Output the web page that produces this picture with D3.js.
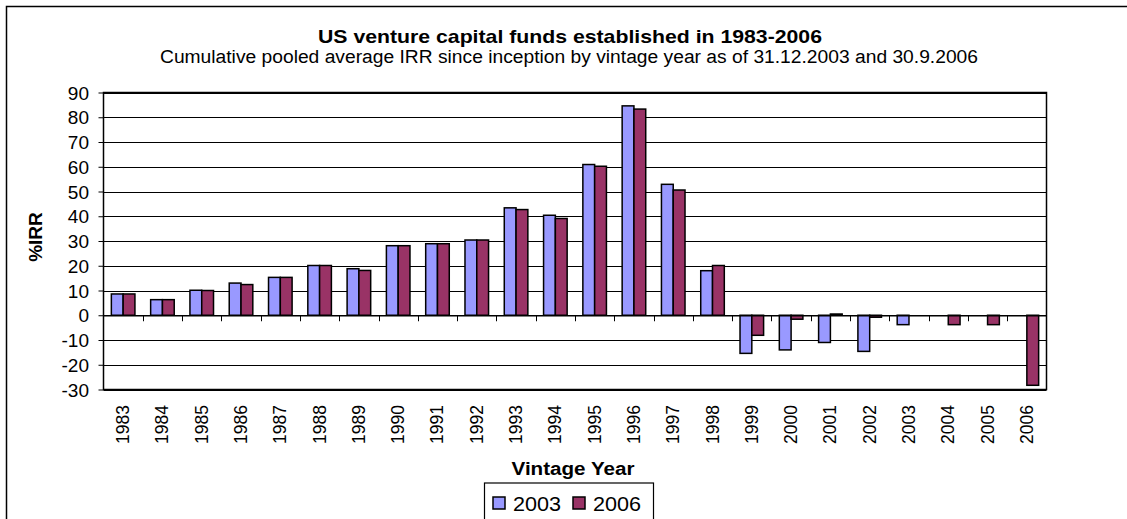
<!DOCTYPE html>
<html>
<head>
<meta charset="utf-8">
<script src="https://cdn.jsdelivr.net/npm/d3@7"></script>
<style>
  body { margin: 0; background: #fff; }
  text { font-family: "Liberation Sans", Arial, sans-serif; fill: #000; }
</style>
</head>
<body>
<div id="chart"></div>
<script>
const years = ['1983','1984','1985','1986','1987','1988','1989','1990','1991','1992','1993','1994',
  '1995','1996','1997','1998','1999','2000','2001','2002','2003','2004','2005','2006'];
const seriesNames = ['2003', '2006'];
const irr2003 = [8.6, 6.3, 10.1, 13.0, 15.3, 20.1, 18.8, 28.1, 28.9, 30.4, 43.4, 40.4,
  60.9, 84.6, 52.9, 18.0, -15.4, -14.0, -11.0, -14.6, -3.8, null, null, null];
const irr2006 = [8.6, 6.3, 10.0, 12.4, 15.3, 20.1, 18.1, 28.1, 28.9, 30.4, 42.7, 39.1,
  60.2, 83.3, 50.6, 20.1, -8.1, -1.6, 0.5, -0.8, null, -3.8, -3.8, -28.3];
const yTicks = [90, 80, 70, 60, 50, 40, 30, 20, 10, 0, -10, -20, -30];
const colors = ['#9999FF', '#993366'];

function drawChart() {
  d3.select('#chart').selectAll('*').remove();

  const W = 1127, H = 519;
  const plot = { left: 103.5, top: 92.5, right: 1046.5, bottom: 389.5 };

  const svg = d3.select('#chart')
    .append('svg')
    .attr('width', W)
    .attr('height', H);

  // outer chart frame (runs past the right and bottom edge)
  svg.append('rect')
    .attr('x', 6.5).attr('y', 6.5)
    .attr('width', W + 20).attr('height', H + 20)
    .attr('fill', '#fff')
    .attr('stroke', '#000')
    .attr('stroke-width', 1.5);

  const x = d3.scaleBand()
    .domain(years)
    .range([plot.left, plot.right])
    .paddingInner(0)
    .paddingOuter(0);

  const xs = d3.scaleBand()
    .domain(seriesNames)
    .range([x.bandwidth() * 0.2, x.bandwidth() * 0.8]);

  const y = d3.scaleLinear()
    .domain([-30, 90])
    .range([plot.bottom, plot.top]);

  // gridlines + left ticks
  svg.append('g')
    .attr('transform', `translate(${plot.left},0)`)
    .call(d3.axisLeft(y).tickValues(yTicks).tickSize(5).tickFormat(''))
    .call(g => g.select('.domain').remove())
    .call(g => g.selectAll('.tick line').attr('stroke', '#000'));

  svg.append('g')
    .selectAll('line')
    .data(yTicks)
    .enter()
    .append('line')
    .attr('x1', plot.left)
    .attr('x2', plot.right)
    .attr('y1', d => Math.round(y(d)) + 0.5)
    .attr('y2', d => Math.round(y(d)) + 0.5)
    .attr('stroke', '#000')
    .attr('stroke-width', 1);

  // y tick labels
  svg.append('g')
    .selectAll('text')
    .data(yTicks)
    .enter()
    .append('text')
    .attr('x', 89)
    .attr('y', d => y(d) + 7)
    .attr('text-anchor', 'end')
    .style('font-size', '19px')
    .text(d => d);

  // bars
  const series = [irr2003, irr2006];
  series.forEach((vals, si) => {
    svg.append('g')
      .selectAll('rect')
      .data(years.map((yr, i) => ({ yr, v: vals[i] })).filter(d => d.v !== null))
      .enter()
      .append('rect')
      .attr('x', d => x(d.yr) + xs(seriesNames[si]))
      .attr('y', d => y(Math.max(0, d.v)))
      .attr('width', xs.bandwidth())
      .attr('height', d => Math.abs(y(d.v) - y(0)))
      .attr('fill', colors[si])
      .attr('stroke', '#000')
      .attr('stroke-width', 1.5);
  });

  // x axis at zero with category ticks
  svg.append('g')
    .attr('transform', `translate(0,${Math.round(y(0)) + 0.5})`)
    .call(d3.axisBottom(x).tickSize(0).tickFormat(''))
    .call(g => g.select('.domain').attr('stroke', '#000').attr('stroke-width', 1.2));

  svg.append('g')
    .selectAll('line')
    .data(years.slice(1))
    .enter()
    .append('line')
    .attr('x1', d => Math.round(x(d)) + 0.5)
    .attr('x2', d => Math.round(x(d)) + 0.5)
    .attr('y1', y(0))
    .attr('y2', y(0) + 6)
    .attr('stroke', '#000');

  // plot frame
  svg.append('rect')
    .attr('x', plot.left).attr('y', plot.top)
    .attr('width', plot.right - plot.left)
    .attr('height', plot.bottom - plot.top)
    .attr('fill', 'none')
    .attr('stroke', '#000')
    .attr('stroke-width', 1.5);

  // x tick labels (rotated)
  svg.append('g')
    .selectAll('text')
    .data(years)
    .enter()
    .append('text')
    .attr('transform', d => `translate(${x(d) + x.bandwidth() / 2 + 6},405) rotate(-90)`)
    .attr('text-anchor', 'end')
    .style('font-size', '17.5px')
    .text(d => d);

  // titles
  svg.append('text')
    .attr('x', 570).attr('y', 43)
    .attr('text-anchor', 'middle')
    .attr('textLength', 504)
    .attr('lengthAdjust', 'spacingAndGlyphs')
    .style('font-size', '19px')
    .style('font-weight', 'bold')
    .text('US venture capital funds established in 1983-2006');

  svg.append('text')
    .attr('x', 569).attr('y', 63)
    .attr('text-anchor', 'middle')
    .attr('textLength', 818)
    .attr('lengthAdjust', 'spacingAndGlyphs')
    .style('font-size', '18px')
    .text('Cumulative pooled average IRR since inception by vintage year as of 31.12.2003 and 30.9.2006');

  svg.append('text')
    .attr('transform', 'translate(42,237) rotate(-90)')
    .attr('text-anchor', 'middle')
    .style('font-size', '19px')
    .style('font-weight', 'bold')
    .text('%IRR');

  svg.append('text')
    .attr('x', 573).attr('y', 475)
    .attr('text-anchor', 'middle')
    .attr('textLength', 123)
    .attr('lengthAdjust', 'spacingAndGlyphs')
    .style('font-size', '18px')
    .style('font-weight', 'bold')
    .text('Vintage Year');

  // legend
  const legend = svg.append('g');
  legend.append('rect')
    .attr('x', 484.5).attr('y', 483)
    .attr('width', 169).attr('height', 45)
    .attr('fill', '#fff')
    .attr('stroke', '#000')
    .attr('stroke-width', 1.2);

  const legX = [493, 573];
  seriesNames.forEach((s, i) => {
    legend.append('rect')
      .attr('x', legX[i]).attr('y', 497)
      .attr('width', 12).attr('height', 12)
      .attr('fill', colors[i])
      .attr('stroke', '#000')
      .attr('stroke-width', 1.5);
    legend.append('text')
      .attr('x', legX[i] + 20).attr('y', 511)
      .attr('textLength', 48)
      .attr('lengthAdjust', 'spacingAndGlyphs')
      .style('font-size', '20px')
      .text(s);
  });
}

drawChart();
</script>
</body>
</html>
